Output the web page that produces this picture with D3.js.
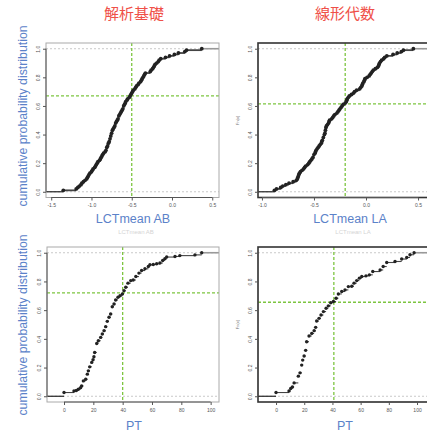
<!DOCTYPE html>
<html lang="ja">
<head>
<meta charset="UTF-8">
<title>LCTmean / PT ECDF</title>
<script src="https://d3js.org/d3.v7.min.js"></script>
<style>
  body { margin: 0; background: #fff; }
  svg { display: block; font-family: "Liberation Sans", Arial, sans-serif; }
  .title { font-family: "Noto Sans CJK JP", sans-serif; fill: #ef5048; font-size: 15px; }
  .lab { fill: #5b82c9; }
  .tick text { fill: #555; }
</style>
</head>
<body>
<svg id="chart" width="427" height="434"></svg>
<script>
  // titles and labels
  const subjects = ["解析基礎", "線形代数"];
  const lctLabels = ["LCTmean AB", "LCTmean LA"];

  // LCTmean samples (sorted)
  const lctAB = [-1.35, -1.19, -1.17, -1.15, -1.13, -1.12, -1.10, -1.08, -1.06, -1.05,
    -1.04, -1.03, -1.02, -1.00, -0.99, -0.98, -0.96, -0.95, -0.94, -0.93,
    -0.92, -0.90, -0.89, -0.88, -0.87, -0.86, -0.85, -0.83, -0.82, -0.81,
    -0.81, -0.80, -0.79, -0.79, -0.78, -0.77, -0.77, -0.76, -0.76, -0.75,
    -0.75, -0.74, -0.74, -0.73, -0.72, -0.71, -0.70, -0.70, -0.69, -0.68,
    -0.67, -0.66, -0.66, -0.65, -0.64, -0.63, -0.62, -0.61, -0.60, -0.60,
    -0.59, -0.58, -0.575, -0.56, -0.55, -0.53, -0.52, -0.51, -0.50, -0.49,
    -0.48, -0.46, -0.45, -0.44, -0.42, -0.41, -0.39, -0.38, -0.37, -0.36,
    -0.35, -0.34, -0.33, -0.27, -0.26, -0.24, -0.23, -0.22, -0.21, -0.19,
    -0.17, -0.16, -0.14, -0.08, -0.03, 0.03, 0.08, 0.16, 0.18, 0.37];

  const lctLA = [-0.88, -0.86, -0.82, -0.80, -0.77, -0.74, -0.70, -0.67, -0.66, -0.655,
    -0.65, -0.645, -0.64, -0.63, -0.615, -0.60, -0.59, -0.58, -0.56, -0.55,
    -0.54, -0.53, -0.52, -0.51, -0.50, -0.50, -0.49, -0.485, -0.48, -0.47,
    -0.46, -0.45, -0.44, -0.43, -0.425, -0.42, -0.41, -0.41, -0.40, -0.40,
    -0.395, -0.39, -0.39, -0.385, -0.385, -0.38, -0.37, -0.36, -0.355, -0.35,
    -0.33, -0.32, -0.31, -0.30, -0.28, -0.27, -0.26, -0.25, -0.24, -0.23,
    -0.22, -0.20, -0.19, -0.185, -0.18, -0.17, -0.16, -0.14, -0.12, -0.11,
    -0.09, -0.06, -0.05, -0.04, -0.035, -0.03, -0.02, -0.015, -0.01, 0.01,
    0.03, 0.04, 0.05, 0.06, 0.07, 0.09, 0.11, 0.12, 0.125, 0.13,
    0.14, 0.15, 0.17, 0.18, 0.20, 0.26, 0.30, 0.34, 0.36, 0.455];

  // PT step points (score, Fn)
  const ptABx = [0, 6.8, 8.4, 9.8, 11.3, 12, 13.2, 14.8, 15.9, 16.6, 17.5, 18.9, 19.8, 20.4, 20.9,
    22.3, 23.4, 25, 26.1, 27.3, 28.4, 29.5, 30.7, 31.8, 32.9, 34.1, 35.2, 36.8, 38.2, 39.8,
    40.9, 42.1, 43.6, 45.5, 47.2, 49, 51.1, 52.9, 55.2, 57.5, 58.6, 60.9, 63.2, 65.4, 67.3,
    68.8, 70, 75.7, 79, 89.3, 93.9];
  const ptABf = [0.026, 0.037, 0.04, 0.049, 0.06, 0.072, 0.107, 0.119, 0.154, 0.177, 0.205, 0.236, 0.254, 0.275, 0.305,
    0.368, 0.387, 0.41, 0.434, 0.457, 0.485, 0.522, 0.55, 0.573, 0.624, 0.643, 0.671, 0.69, 0.70, 0.713,
    0.736, 0.76, 0.788, 0.806, 0.81, 0.834, 0.858, 0.876, 0.888, 0.904, 0.916, 0.918, 0.923, 0.928, 0.946,
    0.958, 0.97, 0.974, 0.98, 0.985, 1.0];

  const ptLAx = [0, 9.2, 10.4, 11.6, 12.8, 15.8, 17, 18.2, 18.9, 19.9, 21, 21.7, 23.4, 25.3, 27,
    28.1, 28.8, 30.5, 31.9, 33.6, 35.5, 37.1, 38.8, 40.7, 42.6, 44.2, 46.6, 48.9, 51.3, 53.7,
    55.3, 57.2, 59.1, 60.8, 63.8, 66.2, 68.6, 73.8, 76, 78.5, 84.4, 89.1, 92.7, 95, 97.9];
  const ptLAf = [0.026, 0.037, 0.054, 0.065, 0.093, 0.14, 0.163, 0.217, 0.252, 0.28, 0.32, 0.38, 0.42, 0.438, 0.457,
    0.48, 0.524, 0.543, 0.566, 0.59, 0.613, 0.63, 0.652, 0.66, 0.683, 0.713, 0.73, 0.741, 0.764, 0.767,
    0.788, 0.806, 0.823, 0.834, 0.839, 0.846, 0.869, 0.88, 0.904, 0.932, 0.939, 0.956, 0.967, 0.986, 1.0];

  // ticks and guide lines
  const lctTicksAB = [-1.5, -1.0, -0.5, 0.0, 0.5];
  const lctTicksLA = [-1.0, -0.5, 0.0, 0.5];
  const ptTicks = [0, 20, 40, 60, 80, 100];
  const probTicks = [0, 0.2, 0.4, 0.6, 0.8, 1.0];
  const guideX = [-0.5, -0.2, 40, 41];
  const guideF = [0.67, 0.615, 0.72, 0.655];

  // ecdf of a sample -> step points
  function ecdf(values) {
    const n = values.length;
    const counts = d3.rollups(values, v => v.length, d => d).sort((a, b) => a[0] - b[0]);
    let cum = 0;
    return counts.map(([x, c]) => { cum += c; return { x, F: cum / n }; });
  }
  const pairs = (xs, fs) => xs.map((x, i) => ({ x, F: fs[i] }));

  const svg = d3.select("#chart");
  svg.append("rect").attr("width", 427).attr("height", 434).attr("fill", "#fff");

  const panels = [
    { pts: ecdf(lctAB), xDomain: [-1.565, 0.584], ticks: lctTicksAB, fmt: d => d.toFixed(1), r: 1.9, sw: 1.8,
      left: 46, right: 219, top: 43, bottom: 197.5, box: "#aaa", boxW: 1, g: 0, fnLab: false },
    { pts: ecdf(lctLA), xDomain: [-1.038, 0.615], ticks: lctTicksLA, fmt: d => d.toFixed(1), r: 1.9, sw: 1.8,
      left: 258, right: 430, top: 43, bottom: 197.5, box: "#333", boxW: 1.6, g: 1, fnLab: true },
    { pts: pairs(ptABx, ptABf), xDomain: [-11.6, 105.7], ticks: ptTicks, fmt: d => d, r: 1.7, sw: 1.1,
      left: 47, right: 219, top: 247, bottom: 402, box: "#aaa", boxW: 1, g: 2, fnLab: false },
    { pts: pairs(ptLAx, ptLAf), xDomain: [-12.8, 109.2], ticks: ptTicks, fmt: d => d, r: 1.7, sw: 1.1,
      left: 258, right: 430, top: 247, bottom: 402, box: "#333", boxW: 1.6, g: 3, fnLab: true }
  ];

  panels.forEach(p => {
    const g = svg.append("g");
    const x = d3.scaleLinear().domain(p.xDomain).range([p.left, p.right]);
    const y = d3.scaleLinear().domain([-0.04, 1.04]).range([p.bottom, p.top]);

    // dotted lines at 0 and 1
    g.selectAll(".ref").data([0, 1]).join("line")
      .attr("x1", p.left).attr("x2", p.right)
      .attr("y1", d => y(d)).attr("y2", d => y(d))
      .attr("stroke", "#bbb").attr("stroke-width", 0.8).attr("stroke-dasharray", "2,2");

    // guide lines
    g.append("line")
      .attr("x1", x(guideX[p.g])).attr("x2", x(guideX[p.g]))
      .attr("y1", p.top).attr("y2", p.bottom)
      .attr("stroke", "#7dc540").attr("stroke-width", 1.3).attr("stroke-dasharray", "3,2");
    g.append("line")
      .attr("x1", p.left).attr("x2", p.right)
      .attr("y1", y(guideF[p.g])).attr("y2", y(guideF[p.g]))
      .attr("stroke", "#7dc540").attr("stroke-width", 1.3).attr("stroke-dasharray", "3,2");

    // step segments
    const pts = p.pts;
    const last = pts[pts.length - 1];
    g.append("line")
      .attr("x1", p.left).attr("x2", x(pts[0].x))
      .attr("y1", y(0)).attr("y2", y(0))
      .attr("stroke", "#222").attr("stroke-width", 1.2);
    g.selectAll(".seg").data(pts.slice(0, -1)).join("line")
      .attr("x1", d => x(d.x)).attr("x2", (d, i) => x(pts[i + 1].x))
      .attr("y1", d => y(d.F)).attr("y2", d => y(d.F))
      .attr("stroke", "#444").attr("stroke-width", p.sw);
    g.append("line")
      .attr("x1", x(last.x)).attr("x2", p.right)
      .attr("y1", y(1)).attr("y2", y(1))
      .attr("stroke", "#999").attr("stroke-width", 1.6);

    g.selectAll(".pt").data(pts).join("circle")
      .attr("cx", d => x(d.x)).attr("cy", d => y(d.F))
      .attr("r", p.r).attr("fill", "#222");

    // box
    g.append("rect")
      .attr("x", p.left).attr("y", p.top)
      .attr("width", p.right - p.left).attr("height", p.bottom - p.top)
      .attr("fill", "none").attr("stroke", p.box).attr("stroke-width", p.boxW);

    // x axis
    const xa = g.append("g").attr("transform", `translate(0,${p.bottom})`)
      .call(d3.axisBottom(x).tickValues(p.ticks).tickFormat(p.fmt).tickSize(3).tickPadding(3));
    xa.select(".domain").remove();
    xa.append("line")
      .attr("x1", x(p.ticks[0])).attr("x2", x(p.ticks[p.ticks.length - 1]))
      .attr("stroke", "#555").attr("stroke-width", 1);
    xa.selectAll("text").attr("font-size", 5);
    xa.selectAll(".tick line").attr("stroke", "#555");

    // y axis
    const ya = g.append("g").attr("transform", `translate(${p.left},0)`)
      .call(d3.axisLeft(y).tickValues(probTicks).tickFormat(d => d.toFixed(1)).tickSize(3));
    ya.select(".domain").remove();
    ya.append("line").attr("y1", y(0)).attr("y2", y(1)).attr("stroke", "#555");
    ya.selectAll(".tick line").attr("stroke", "#555");
    ya.selectAll("text")
      .attr("x", null).attr("dy", null)
      .attr("text-anchor", "middle").attr("font-size", 5)
      .attr("transform", "translate(-6,0) rotate(-90)");

    if (p.fnLab) {
      g.append("text")
        .attr("transform", `translate(${p.left - 19},${(p.top + p.bottom) / 2}) rotate(-90)`)
        .attr("text-anchor", "middle").attr("font-size", 4).attr("fill", "#777")
        .text("Fn(x)");
    }
  });

  // titles
  svg.selectAll(".title").data(subjects).join("text")
    .attr("class", "title")
    .attr("x", (d, i) => [134, 345][i]).attr("y", 19)
    .attr("text-anchor", "middle")
    .text(d => d);

  // y labels
  [116, 325].forEach(cy => {
    svg.append("text").attr("class", "lab")
      .attr("transform", `translate(27,${cy}) rotate(-90)`)
      .attr("text-anchor", "middle").attr("font-size", 12.3)
      .text("cumulative probability distribution");
  });

  // x labels
  lctLabels.forEach((t, i) => {
    const cx = [133, 350][i];
    svg.append("text").attr("class", "lab")
      .attr("x", cx).attr("y", 223).attr("text-anchor", "middle").attr("font-size", 12.5)
      .text(t);
    svg.append("text")
      .attr("x", cx + 3).attr("y", 234).attr("text-anchor", "middle").attr("font-size", 6)
      .attr("fill", "#d4d4d4").text(t);
  });
  [134, 345].forEach(cx => {
    svg.append("text").attr("class", "lab")
      .attr("x", cx).attr("y", 430).attr("text-anchor", "middle").attr("font-size", 12.5)
      .text("PT");
  });
</script>
</body>
</html>
